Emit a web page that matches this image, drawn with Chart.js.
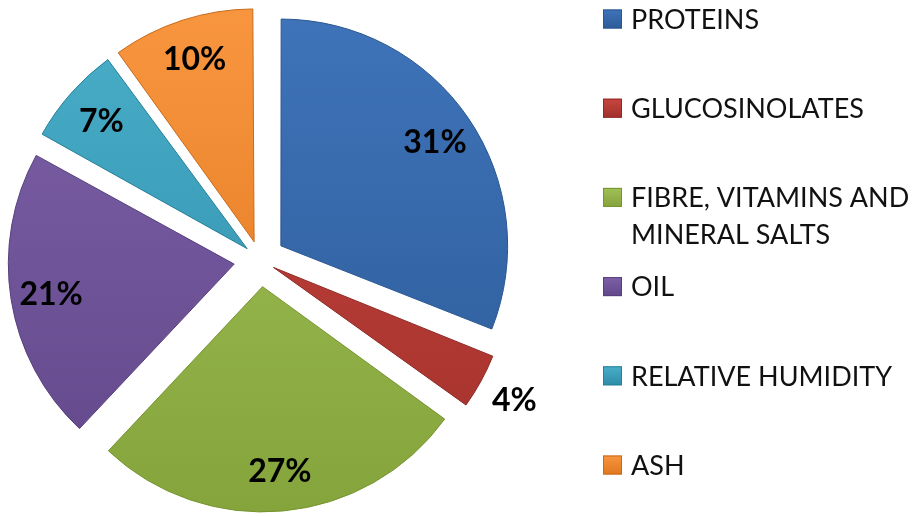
<!DOCTYPE html>
<html><head><meta charset="utf-8">
<script src="https://cdn.jsdelivr.net/npm/chart.js@4"></script>
<style>html,body{margin:0;padding:0;background:#fff;} #wrap{width:917px;height:517px;position:relative;}</style>
</head><body><div id="wrap"><canvas id="c" width="917" height="517"></canvas></div>
<script>
const categories = ['PROTEINS', 'GLUCOSINOLATES', 'FIBRE, VITAMINS AND MINERAL SALTS', 'OIL', 'RELATIVE HUMIDITY', 'ASH'];
const values = [31, 4, 27, 21, 7, 10];
const valueLabels = ['31%', '4%', '27%', '21%', '7%', '10%'];
const legendLines = [['PROTEINS'], ['GLUCOSINOLATES'], ['FIBRE, VITAMINS AND', 'MINERAL SALTS'], ['OIL'], ['RELATIVE HUMIDITY'], ['ASH']];

const topColors = ['#3f74ba', '#c8463f', '#a0c058', '#7e60a8', '#4aafca', '#f8963f'];
const bottomColors = ['#2c5b98', '#a2302b', '#84a33b', '#61488a', '#2d8ba7', '#e0771e'];
const edgeColors = ['#2a5690', '#8e2a26', '#76942f', '#553f7c', '#27809a', '#c86a1a'];

const EXPLODE = 27;   // wanted pixel shift of each slice
const RADIUS = 225;

// Chart.js v4 arcs shift by offset/4 * (1 + (1 - sin(circumference))); invert that so every slice moves EXPLODE px
const total = values.reduce((a, b) => a + b, 0);
const offsets = values.map(v => {
  const circ = v / total * Math.PI * 2;
  const fix = 1 - Math.sin(Math.min(Math.PI, circ));
  return 4 * EXPLODE / (1 + fix);
});

function grad(ctx, i, y0, y1) {
  const g = ctx.createLinearGradient(0, y0, 0, y1);
  g.addColorStop(0, topColors[i]);
  g.addColorStop(1, bottomColors[i]);
  return g;
}

const labelPlugin = {
  id: 'valueLabels',
  afterDatasetsDraw(chart) {
    const ctx = chart.ctx;
    const meta = chart.getDatasetMeta(0);
    const size = 32;
    ctx.save();
    ctx.font = 'bold ' + size + 'px Lato';
    ctx.fillStyle = '#000';
    ctx.textAlign = 'center';
    ctx.textBaseline = 'alphabetic';
    meta.data.forEach((arc, i) => {
      const p = arc.getProps(['x', 'y', 'startAngle', 'endAngle', 'outerRadius'], true);
      const mid = (p.startAngle + p.endAngle) / 2;
      const f = values[i] < 5 ? 1.17 : 0.82;
      const d = EXPLODE + f * p.outerRadius;
      ctx.fillText(valueLabels[i], p.x + Math.cos(mid) * d, p.y + Math.sin(mid) * d + size * 0.36);
    });
    ctx.restore();
  }
};

const legendPlugin = {
  id: 'sideLegend',
  afterDraw(chart) {
    const ctx = chart.ctx;
    const size = 27;
    ctx.save();
    ctx.font = size + 'px Lato';
    ctx.textAlign = 'left';
    ctx.textBaseline = 'alphabetic';
    legendLines.forEach((lines, i) => {
      const cy = 19 + i * 89.2;
      const g = ctx.createLinearGradient(0, cy - 9.5, 0, cy + 9.5);
      g.addColorStop(0, topColors[i]);
      g.addColorStop(1, bottomColors[i]);
      ctx.fillStyle = g;
      ctx.fillRect(603, cy - 9.5, 19, 19);
      ctx.strokeStyle = edgeColors[i];
      ctx.lineWidth = 1;
      ctx.strokeRect(603.5, cy - 9, 18, 18);
      ctx.fillStyle = '#111';
      lines.forEach((t, k) => {
        ctx.fillText(t, 631, cy + size * 0.36 + k * 36.5);
      });
    });
    ctx.restore();
  }
};

new Chart(document.getElementById('c'), {
  type: 'pie',
  data: {
    labels: categories,
    datasets: [{
      data: values,
      backgroundColor: (c) => {
        const i = c.dataIndex;
        if (i === undefined) return topColors[0];
        return grad(c.chart.ctx, i, 20, 500);
      },
      borderColor: edgeColors,
      borderWidth: 1,
      offset: offsets,
      hoverOffset: 0
    }]
  },
  options: {
    responsive: false,
    animation: false,
    events: [],
    radius: RADIUS,
    layout: { padding: { left: 21, top: 21, right: 418, bottom: 18 } },
    plugins: { legend: { display: false }, tooltip: { enabled: false } }
  },
  plugins: [labelPlugin, legendPlugin]
});
</script>
</body></html>
